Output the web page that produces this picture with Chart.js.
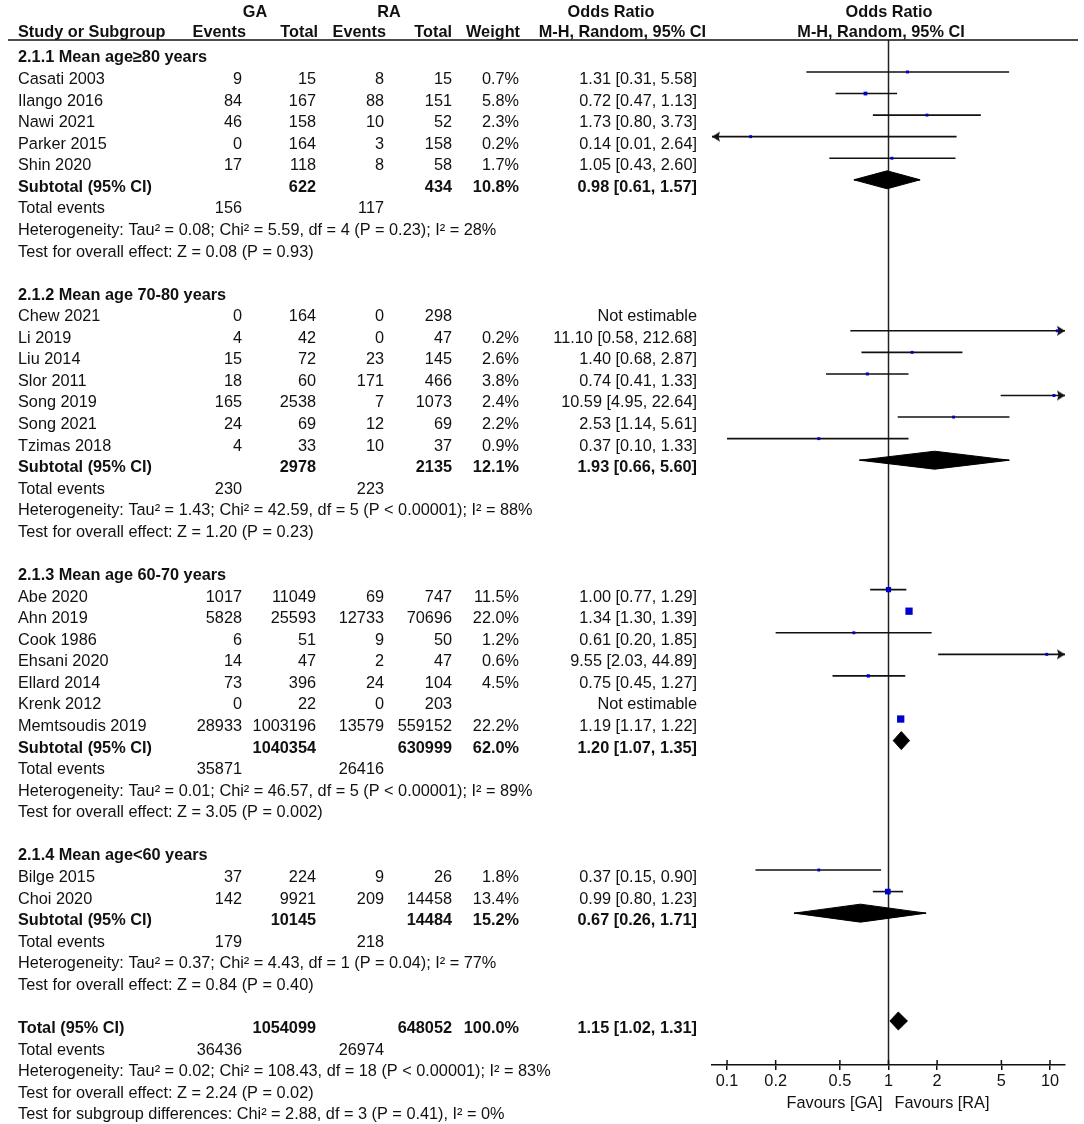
<!DOCTYPE html>
<html>
<head>
<meta charset="utf-8">
<script src="https://cdn.jsdelivr.net/npm/chart.js@4.4.1/dist/chart.umd.min.js"></script>
<style>
html,body{margin:0;padding:0;background:#fff;}
canvas{display:block;}
</style>
</head>
<body>
<canvas id="c" width="1084" height="1124"></canvas>
<script>
// ---------------- DATA ----------------
const groupTitles = ["2.1.1 Mean age\u226580 years", "2.1.2 Mean age 70-80 years", "2.1.3 Mean age 60-70 years", "2.1.4 Mean age<60 years"];

const studyNames = ["Casati 2003","Ilango 2016","Nawi 2021","Parker 2015","Shin 2020",
  "Chew 2021","Li 2019","Liu 2014","Slor 2011","Song 2019","Song 2021","Tzimas 2018",
  "Abe 2020","Ahn 2019","Cook 1986","Ehsani 2020","Ellard 2014","Krenk 2012","Memtsoudis 2019",
  "Bilge 2015","Choi 2020"];
const studyGroup = [0,0,0,0,0, 1,1,1,1,1,1,1, 2,2,2,2,2,2,2, 3,3];
const gaEvents = [9,84,46,0,17, 0,4,15,18,165,24,4, 1017,5828,6,14,73,0,28933, 37,142];
const gaTotals = [15,167,158,164,118, 164,42,72,60,2538,69,33, 11049,25593,51,47,396,22,1003196, 224,9921];
const raEvents = [8,88,10,3,8, 0,0,23,171,7,12,10, 69,12733,9,2,24,0,13579, 9,209];
const raTotals = [15,151,52,158,58, 298,47,145,466,1073,69,37, 747,70696,50,47,104,203,559152, 26,14458];
const weights = [0.7,5.8,2.3,0.2,1.7, null,0.2,2.6,3.8,2.4,2.2,0.9, 11.5,22.0,1.2,0.6,4.5,null,22.2, 1.8,13.4];
const oddsRatios = [1.31,0.72,1.73,0.14,1.05, null,11.10,1.40,0.74,10.59,2.53,0.37, 1.00,1.34,0.61,9.55,0.75,null,1.19, 0.37,0.99];
const ciLower = [0.31,0.47,0.80,0.01,0.43, null,0.58,0.68,0.41,4.95,1.14,0.10, 0.77,1.30,0.20,2.03,0.45,null,1.17, 0.15,0.80];
const ciUpper = [5.58,1.13,3.73,2.64,2.60, null,212.68,2.87,1.33,22.64,5.61,1.33, 1.29,1.39,1.85,44.89,1.27,null,1.22, 0.90,1.23];

const subTotalsGA = [622, 2978, 1040354, 10145];
const subTotalsRA = [434, 2135, 630999, 14484];
const subWeights = [10.8, 12.1, 62.0, 15.2];
const subOR = [0.98, 1.93, 1.20, 0.67];
const subLower = [0.61, 0.66, 1.07, 0.26];
const subUpper = [1.57, 5.60, 1.35, 1.71];
const subEventsGA = [156, 230, 35871, 179];
const subEventsRA = [117, 223, 26416, 218];
const subHeterogeneity = [
  "Heterogeneity: Tau\u00b2 = 0.08; Chi\u00b2 = 5.59, df = 4 (P = 0.23); I\u00b2 = 28%",
  "Heterogeneity: Tau\u00b2 = 1.43; Chi\u00b2 = 42.59, df = 5 (P < 0.00001); I\u00b2 = 88%",
  "Heterogeneity: Tau\u00b2 = 0.01; Chi\u00b2 = 46.57, df = 5 (P < 0.00001); I\u00b2 = 89%",
  "Heterogeneity: Tau\u00b2 = 0.37; Chi\u00b2 = 4.43, df = 1 (P = 0.04); I\u00b2 = 77%"];
const subOverall = [
  "Test for overall effect: Z = 0.08 (P = 0.93)",
  "Test for overall effect: Z = 1.20 (P = 0.23)",
  "Test for overall effect: Z = 3.05 (P = 0.002)",
  "Test for overall effect: Z = 0.84 (P = 0.40)"];

const totalGA = 1054099, totalRA = 648052, totalWeight = 100.0;
const totalOR = 1.15, totalLower = 1.02, totalUpper = 1.31;
const totalEventsGA = 36436, totalEventsRA = 26974;
const totalHeterogeneity = "Heterogeneity: Tau\u00b2 = 0.02; Chi\u00b2 = 108.43, df = 18 (P < 0.00001); I\u00b2 = 83%";
const totalOverall = "Test for overall effect: Z = 2.24 (P = 0.02)";
const subgroupDiff = "Test for subgroup differences: Chi\u00b2 = 2.88, df = 3 (P = 0.41), I\u00b2 = 0%";

const tickValues = [0.1, 0.2, 0.5, 1, 2, 5, 10];
const tickLabels = ["0.1", "0.2", "0.5", "1", "2", "5", "10"];
const favourLeft = "Favours [GA]", favourRight = "Favours [RA]";

// ---------------- LAYOUT ----------------
const X_MIN = 0.0807, X_MAX = 12.39;
const Y_MIN = -0.482, Y_MAX = 47.04;
const DIAMOND_H = 0.417;
const COL = {name: 18, gaE: 242, gaT: 316, raE: 384, raT: 452, w: 519, ci: 697};
const FONT = '"Liberation Sans", Arial, Helvetica, sans-serif';
const FSIZE = '16.3px ';
const TXT = '#111';

function ciText(o, l, u) { return o.toFixed(2) + " [" + l.toFixed(2) + ", " + u.toFixed(2) + "]"; }

// ---------------- BUILD ROWS ----------------
const textRows = [];
const squarePts = [];
const whiskerList = [];
const diamondList = [];
let k = 0;
for (let g = 0; g < groupTitles.length; g++) {
  textRows.push({k, cells: [{t: groupTitles[g], x: COL.name, a: 'left', b: true}]}); k++;
  for (let i = 0; i < studyNames.length; i++) {
    if (studyGroup[i] !== g) continue;
    const cells = [
      {t: studyNames[i], x: COL.name, a: 'left'},
      {t: String(gaEvents[i]), x: COL.gaE, a: 'right'},
      {t: String(gaTotals[i]), x: COL.gaT, a: 'right'},
      {t: String(raEvents[i]), x: COL.raE, a: 'right'},
      {t: String(raTotals[i]), x: COL.raT, a: 'right'}
    ];
    if (oddsRatios[i] !== null) {
      cells.push({t: weights[i].toFixed(1) + "%", x: COL.w, a: 'right'});
      cells.push({t: ciText(oddsRatios[i], ciLower[i], ciUpper[i]), x: COL.ci, a: 'right'});
      squarePts.push({x: oddsRatios[i], y: k, w: weights[i]});
      whiskerList.push({lo: ciLower[i], hi: ciUpper[i], k});
    } else {
      cells.push({t: "Not estimable", x: COL.ci, a: 'right'});
    }
    textRows.push({k, cells}); k++;
  }
  textRows.push({k, cells: [
    {t: "Subtotal (95% CI)", x: COL.name, a: 'left', b: true},
    {t: String(subTotalsGA[g]), x: COL.gaT, a: 'right', b: true},
    {t: String(subTotalsRA[g]), x: COL.raT, a: 'right', b: true},
    {t: subWeights[g].toFixed(1) + "%", x: COL.w, a: 'right', b: true},
    {t: ciText(subOR[g], subLower[g], subUpper[g]), x: COL.ci, a: 'right', b: true}
  ]});
  diamondList.push({est: subOR[g], lo: subLower[g], hi: subUpper[g], k}); k++;
  textRows.push({k, cells: [
    {t: "Total events", x: COL.name, a: 'left'},
    {t: String(subEventsGA[g]), x: COL.gaE, a: 'right'},
    {t: String(subEventsRA[g]), x: COL.raE, a: 'right'}
  ]}); k++;
  textRows.push({k, cells: [{t: subHeterogeneity[g], x: COL.name, a: 'left'}]}); k++;
  textRows.push({k, cells: [{t: subOverall[g], x: COL.name, a: 'left'}]}); k++;
  k++; // blank row
}
textRows.push({k, cells: [
  {t: "Total (95% CI)", x: COL.name, a: 'left', b: true},
  {t: String(totalGA), x: COL.gaT, a: 'right', b: true},
  {t: String(totalRA), x: COL.raT, a: 'right', b: true},
  {t: totalWeight.toFixed(1) + "%", x: COL.w, a: 'right', b: true},
  {t: ciText(totalOR, totalLower, totalUpper), x: COL.ci, a: 'right', b: true}
]});
diamondList.push({est: totalOR, lo: totalLower, hi: totalUpper, k}); k++;
textRows.push({k, cells: [
  {t: "Total events", x: COL.name, a: 'left'},
  {t: String(totalEventsGA), x: COL.gaE, a: 'right'},
  {t: String(totalEventsRA), x: COL.raE, a: 'right'}
]}); k++;
textRows.push({k, cells: [{t: totalHeterogeneity, x: COL.name, a: 'left'}]}); k++;
textRows.push({k, cells: [{t: totalOverall, x: COL.name, a: 'left'}]}); k++;
textRows.push({k, cells: [{t: subgroupDiff, x: COL.name, a: 'left'}]}); k++;

const headerRow1 = [
  {t: "GA", x: 255, a: 'center', b: true},
  {t: "RA", x: 389, a: 'center', b: true},
  {t: "Odds Ratio", x: 611, a: 'center', b: true},
  {t: "Odds Ratio", x: 889, a: 'center', b: true}
];
const headerRow2 = [
  {t: "Study or Subgroup", x: 18, a: 'left', b: true},
  {t: "Events", x: 246, a: 'right', b: true},
  {t: "Total", x: 318, a: 'right', b: true},
  {t: "Events", x: 386, a: 'right', b: true},
  {t: "Total", x: 452, a: 'right', b: true},
  {t: "Weight", x: 520, a: 'right', b: true},
  {t: "M-H, Random, 95% CI", x: 706, a: 'right', b: true},
  {t: "M-H, Random, 95% CI", x: 881, a: 'center', b: true}
];

// ---------------- ARROW HEADS ----------------
function makeArrow(dir) {
  const c = document.createElement('canvas');
  c.width = 20; c.height = 12;
  const g = c.getContext('2d');
  g.fillStyle = '#111';
  g.beginPath();
  if (dir > 0) { g.moveTo(10, 6); g.lineTo(2, 1); g.lineTo(3.5, 6); g.lineTo(2, 11); }
  else { g.moveTo(10, 6); g.lineTo(18, 1); g.lineTo(16.5, 6); g.lineTo(18, 11); }
  g.closePath(); g.fill();
  return c;
}
const arrowR = makeArrow(1), arrowL = makeArrow(-1);

// ---------------- DATASETS ----------------
const datasets = [];
datasets.push({
  type: 'scatter', data: squarePts, order: 0,
  pointStyle: 'rect', backgroundColor: '#0000cc', borderWidth: 0,
  pointRadius: ctx => Math.max(2.9, 1.55 * Math.sqrt(ctx.raw.w)) / Math.SQRT2,
  pointHoverRadius: ctx => Math.max(2.9, 1.55 * Math.sqrt(ctx.raw.w)) / Math.SQRT2
});
datasets.push({
  type: 'line', order: 9, data: [{x: 1, y: Y_MIN}, {x: 1, y: Y_MAX}],
  borderColor: '#222', borderWidth: 1.5, pointRadius: 0, fill: false
});
for (const w of whiskerList) {
  const lo = Math.max(w.lo, X_MIN), hi = Math.min(w.hi, X_MAX);
  datasets.push({
    type: 'line', order: 3, fill: false,
    data: [{x: lo, y: w.k, arrow: w.lo < X_MIN ? 'l' : null}, {x: hi, y: w.k, arrow: w.hi > X_MAX ? 'r' : null}],
    borderColor: '#111', borderWidth: 1.6,
    pointRadius: ctx => (ctx.raw && ctx.raw.arrow) ? 5 : 0,
    pointHoverRadius: ctx => (ctx.raw && ctx.raw.arrow) ? 5 : 0,
    pointStyle: ctx => (ctx.raw && ctx.raw.arrow === 'l') ? arrowL : ((ctx.raw && ctx.raw.arrow === 'r') ? arrowR : 'circle')
  });
}
for (const d of diamondList) {
  for (const s of [-1, 1]) {
    datasets.push({
      type: 'line', order: 2,
      data: [{x: d.lo, y: d.k}, {x: d.est, y: d.k + s * DIAMOND_H}, {x: d.hi, y: d.k}],
      borderColor: '#000', borderWidth: 1, backgroundColor: '#000',
      fill: {value: d.k - s * 0.03}, pointRadius: 0, tension: 0
    });
  }
}

// ---------------- PLUGIN: table text ----------------
const forestText = {
  id: 'forestText',
  afterDraw(chart) {
    const ctx = chart.ctx, ys = chart.scales.y, xs = chart.scales.x, area = chart.chartArea;
    ctx.save();
    ctx.fillStyle = TXT;
    ctx.textBaseline = 'alphabetic';
    const put = (c, y) => {
      ctx.font = (c.b ? 'bold ' : '') + FSIZE + FONT;
      ctx.textAlign = c.a;
      ctx.fillText(c.t, c.x, y);
    };
    headerRow1.forEach(c => put(c, 17));
    headerRow2.forEach(c => put(c, 37));
    for (const r of textRows) {
      const y = ys.getPixelForValue(r.k) + 12;
      r.cells.forEach(c => put(c, y));
    }
    // header rule
    ctx.strokeStyle = '#111'; ctx.lineWidth = 1.5;
    ctx.beginPath(); ctx.moveTo(8, area.top); ctx.lineTo(1078, area.top); ctx.stroke();
    // upper halves of axis ticks
    ctx.beginPath();
    for (const v of tickValues) {
      const px = xs.getPixelForValue(v);
      ctx.moveTo(px, area.bottom - 5); ctx.lineTo(px, area.bottom);
    }
    ctx.stroke();
    // favours labels
    const x1 = xs.getPixelForValue(1);
    ctx.font = FSIZE + FONT;
    ctx.textAlign = 'right'; ctx.fillText(favourLeft, x1 - 6, area.bottom + 43);
    ctx.textAlign = 'left'; ctx.fillText(favourRight, x1 + 6, area.bottom + 43);
    ctx.restore();
  }
};

// ---------------- CHART ----------------
new Chart(document.getElementById('c'), {
  type: 'scatter',
  data: {datasets},
  options: {
    responsive: false, animation: false, events: [],
    layout: {padding: {left: 712, right: 19, top: 40, bottom: 0}},
    plugins: {legend: {display: false}, tooltip: {enabled: false}},
    scales: {
      x: {
        type: 'logarithmic', min: X_MIN, max: X_MAX, position: 'bottom',
        afterBuildTicks: s => { s.ticks = tickValues.map(v => ({value: v})); },
        afterFit: s => { s.height = 59; },
        ticks: {
          autoSkip: false, maxRotation: 0, padding: 2, color: TXT,
          font: {family: FONT, size: 16.3},
          callback: (v) => { const i = tickValues.indexOf(v); return i >= 0 ? tickLabels[i] : ''; }
        },
        grid: {display: true, drawOnChartArea: false, drawTicks: true, tickLength: 5, color: '#111', lineWidth: 1.5},
        border: {display: true, color: '#111', width: 1.5}
      },
      y: {
        type: 'linear', reverse: true, min: Y_MIN, max: Y_MAX, display: false
      }
    }
  },
  plugins: [forestText]
});
</script>
</body>
</html>
